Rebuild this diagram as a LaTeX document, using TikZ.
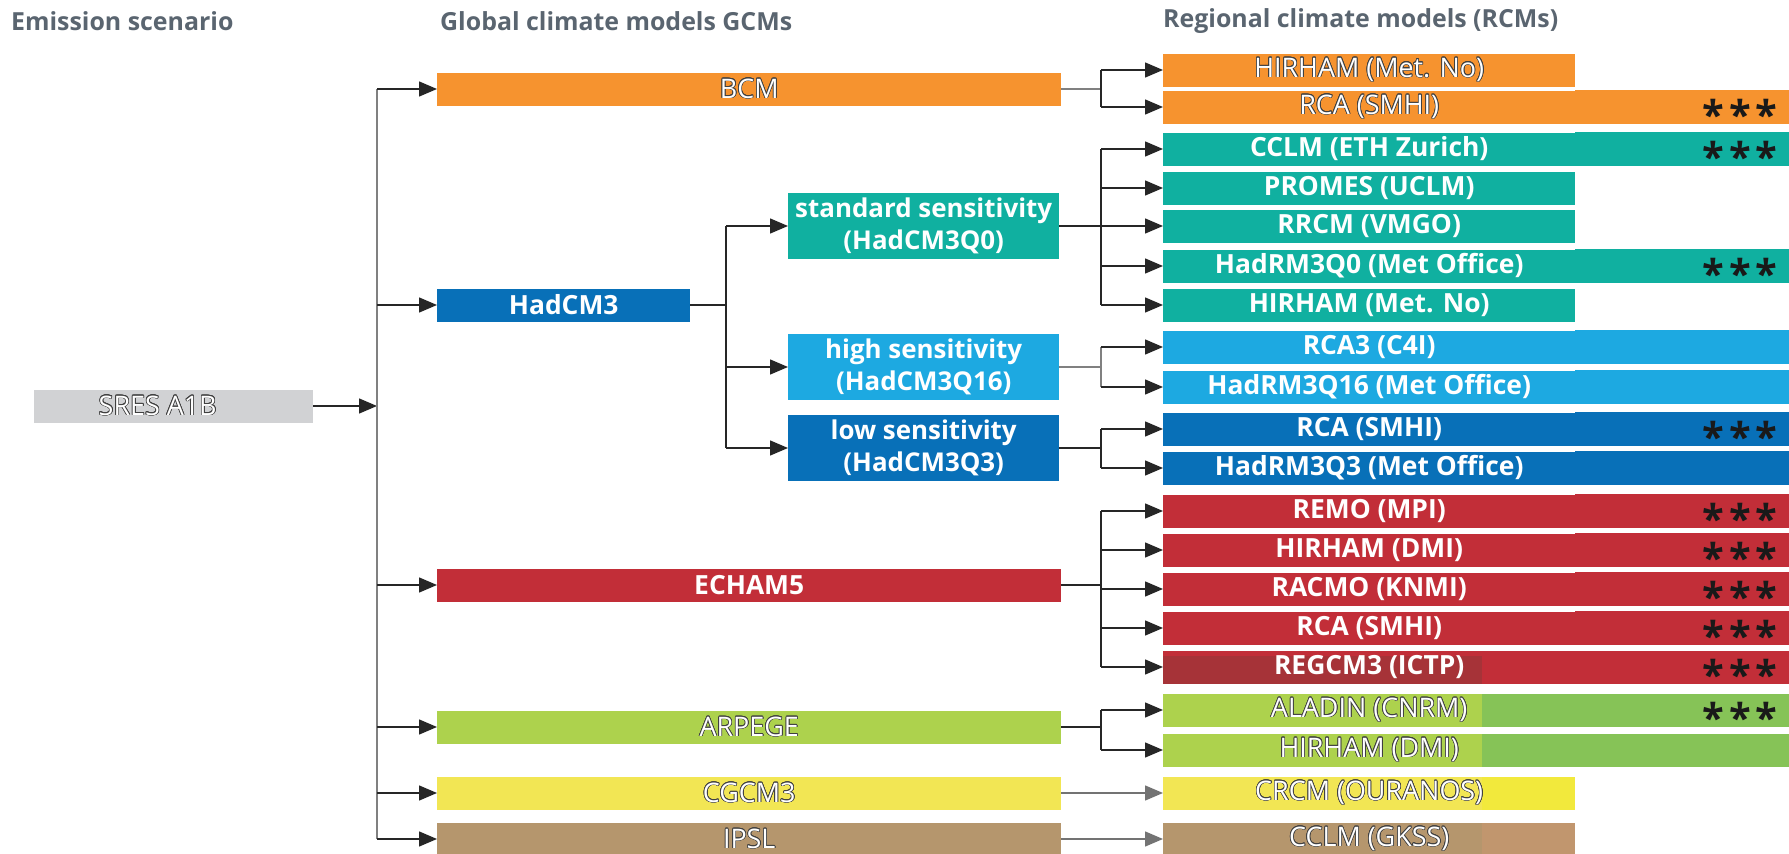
\documentclass[tikz,border=0pt]{standalone}
\usepackage{fontspec}
\setmainfont{Open Sans}
\usepackage{contour}
\contourlength{0.7pt}
\usetikzlibrary{arrows.meta}
\definecolor{corange}{HTML}{F6932F}
\definecolor{cteal}{HTML}{10B0A0}
\definecolor{clblue}{HTML}{1DA9E1}
\definecolor{cdblue}{HTML}{0870B8}
\definecolor{cred}{HTML}{C22E38}
\definecolor{cdred}{HTML}{A63338}
\definecolor{cgreen}{HTML}{ADD24D}
\definecolor{cdgreen}{HTML}{86C357}
\definecolor{cyellow}{HTML}{F2E654}
\definecolor{cyellow2}{HTML}{F2E93C}
\definecolor{cbrown}{HTML}{B5966D}
\definecolor{cbrown2}{HTML}{C1966E}
\definecolor{cgray}{HTML}{D1D2D4}
\definecolor{chead}{HTML}{5A6570}
\newcommand{\outl}[1]{{\color{white}\contour{black!75}{#1}}}
\tikzset{
  box/.style={rectangle, anchor=west, inner sep=0pt, minimum height=33bp, text=white,
    font=\fontsize{27}{28}\selectfont},
  bbox/.style={box, font=\bfseries\fontsize{26.5}{28}\selectfont},
  gcm/.style={minimum width=624bp},
  rcmw/.style={minimum width=412bp},
  sub/.style={rectangle, anchor=west, inner sep=0pt, minimum width=271bp, minimum height=66bp,
    text=white, align=center, font=\bfseries\fontsize{26}{32}\selectfont},
  head/.style={anchor=west, inner sep=0pt, text=chead, font=\bfseries\fontsize{25}{28}\selectfont},
  stars/.style={inner sep=0pt, font=\bfseries\fontsize{40}{40}\selectfont, text=black!90},
  arr/.style={-{Triangle[length=18bp,width=15bp]}, line width=1.4bp, draw=black!85},
  ln/.style={line width=1.4bp, draw=black!85},
  gln/.style={line width=1.4bp, draw=black!50},
  garr/.style={arr, draw=black!55},
}
\newcommand{\ext}[2]{\fill[#2] (#1.north east) rectangle (1789,0 |- #1.south);}
\newcommand{\str}[1]{\node[stars, anchor=base] at (1740,0 |- #1) [yshift=-22bp] {*\hspace{5bp}*\hspace{5bp}*};}
\begin{document}
\begin{tikzpicture}[x=1bp,y=-1bp]
\useasboundingbox (0,0) rectangle (1789,854);
% headers
\node[head] (h1) at (11,21) {Emission scenario};
\node[head] (h2) at (440,21) {Global climate models GCMs};
\node[head] (h3) at (1163,21) {Regional climate models (RCMs)};
% emission
\node[box, fill=cgray, minimum width=279bp] (sres) at (34,406) {\hspace{-32bp}\outl{SRES A1B}};
\coordinate (trunk) at (377,406);
% GCMs
\node[box, gcm, fill=corange] (bcm) at (437,89) {\outl{BCM}};
\node[bbox, fill=cdblue, minimum width=253bp] (had) at (437,305) {HadCM3};
\node[bbox, gcm, fill=cred] (ech) at (437,585) {ECHAM5};
\node[box, gcm, fill=cgreen] (arp) at (437,727) {\outl{ARPEGE}};
\node[box, gcm, fill=cyellow] (cgc) at (437,793) {\outl{CGCM3}};
\node[box, gcm, fill=cbrown] (ips) at (437,839) {\outl{IPSL}};
% HadCM3 variants
\node[sub, fill=cteal] (std) at (788,226) {standard sensitivity\\(HadCM3Q0)};
\node[sub, fill=clblue] (hig) at (788,367) {high sensitivity\\(HadCM3Q16)};
\node[sub, fill=cdblue] (low) at (788,448) {low sensitivity\\(HadCM3Q3)};
% RCMs
\node[box, rcmw, fill=corange] (r1) at (1163,70) {\outl{HIRHAM (Met. No)}};
\node[box, rcmw, fill=corange] (r2) at (1163,107) {\outl{RCA (SMHI)}}; \ext{r2}{corange}
\node[bbox, rcmw, fill=cteal] (r3) at (1163,149) {CCLM (ETH Zurich)}; \ext{r3}{cteal}
\node[bbox, rcmw, fill=cteal] (r4) at (1163,188) {PROMES (UCLM)};
\node[bbox, rcmw, fill=cteal] (r5) at (1163,226) {RRCM (VMGO)};
\node[bbox, rcmw, fill=cteal] (r6) at (1163,266) {HadRM3Q0 (Met Office)}; \ext{r6}{cteal}
\node[bbox, rcmw, fill=cteal] (r7) at (1163,305) {HIRHAM (Met. No)};
\node[bbox, rcmw, fill=clblue] (r8) at (1163,347) {RCA3 (C4I)}; \ext{r8}{clblue}
\node[bbox, rcmw, fill=clblue] (r9) at (1163,387) {HadRM3Q16 (Met Office)}; \ext{r9}{clblue}
\node[bbox, rcmw, fill=cdblue] (r10) at (1163,429) {RCA (SMHI)}; \ext{r10}{cdblue}
\node[bbox, rcmw, fill=cdblue] (r11) at (1163,468) {HadRM3Q3 (Met Office)}; \ext{r11}{cdblue}
\node[bbox, rcmw, fill=cred] (r12) at (1163,511) {REMO (MPI)}; \ext{r12}{cred}
\node[bbox, rcmw, fill=cred] (r13) at (1163,550) {HIRHAM (DMI)}; \ext{r13}{cred}
\node[bbox, rcmw, fill=cred] (r14) at (1163,589) {RACMO (KNMI)}; \ext{r14}{cred}
\node[bbox, rcmw, fill=cred] (r15) at (1163,628) {RCA (SMHI)}; \ext{r15}{cred}
\fill[cred] (1163,650.5) rectangle (1789,683.5);
\fill[cdred] (1163,656) rectangle (1482,683.5);
\node[bbox, rcmw] (r16) at (1163,667) {REGCM3 (ICTP)};
\fill[cdgreen] (1163,693.5) rectangle (1789,726.5);
\fill[cgreen] (1163,693.5) rectangle (1482,726.5);
\node[box, rcmw] (r17) at (1163,710) {\outl{ALADIN (CNRM)}};
\fill[cdgreen] (1163,733.5) rectangle (1789,766.5);
\fill[cgreen] (1163,733.5) rectangle (1482,766.5);
\node[box, rcmw] (r18) at (1163,750) {\outl{HIRHAM (DMI)}};
\fill[cyellow2] (1163,776.5) rectangle (1575,809.5);
\fill[cyellow] (1163,776.5) rectangle (1482,809.5);
\node[box, rcmw] (r19) at (1163,793) {\outl{CRCM (OURANOS)}};
\fill[cbrown2] (1163,822.5) rectangle (1575,855.5);
\fill[cbrown] (1163,822.5) rectangle (1482,855.5);
\node[box, rcmw] (r20) at (1163,839) {\outl{CCLM (GKSS)}};
% stars
\str{r2}\str{r3}\str{r6}\str{r10}\str{r12}\str{r13}\str{r14}\str{r15}\str{r16}\str{r17}
% connectors: emission -> GCMs
\draw[arr] (sres.east) -- (trunk);
\draw[gln] (trunk |- bcm) -- (trunk |- ips);
\foreach \g in {bcm,had,ech,arp,cgc,ips} \draw[arr] (trunk |- \g) -- (\g.west);
% HadCM3 -> variants
\coordinate (hb) at (726,305);
\draw[ln] (had.east) -- (hb);
\draw[ln] (hb |- std) -- (hb |- low);
\foreach \s in {std,hig,low} \draw[arr] (hb |- \s) -- (\s.west);
% GCM -> RCM branches
\coordinate (rb) at (1101,0);
\draw[gln] (bcm.east) -- (rb |- bcm);
\draw[ln] (rb |- r1) -- (rb |- r2);
\foreach \r in {r1,r2} \draw[arr] (rb |- \r) -- (\r.west);
\draw[ln] (std.east) -- (rb |- std);
\draw[ln] (rb |- r3) -- (rb |- r7);
\foreach \r in {r3,r4,r5,r6,r7} \draw[arr] (rb |- \r) -- (\r.west);
\draw[gln] (hig.east) -- (rb |- hig);
\draw[gln] (rb |- r8) -- (rb |- r9);
\foreach \r in {r8,r9} \draw[arr] (rb |- \r) -- (\r.west);
\draw[ln] (low.east) -- (rb |- low);
\draw[ln] (rb |- r10) -- (rb |- r11);
\foreach \r in {r10,r11} \draw[arr] (rb |- \r) -- (\r.west);
\draw[ln] (ech.east) -- (rb |- ech);
\draw[ln] (rb |- r12) -- (rb |- r16);
\foreach \r in {r12,r13,r14,r15,r16} \draw[arr] (rb |- \r) -- (\r.west);
\draw[ln] (arp.east) -- (rb |- arp);
\draw[ln] (rb |- r17) -- (rb |- r18);
\foreach \r in {r17,r18} \draw[arr] (rb |- \r) -- (\r.west);
\draw[garr] (cgc.east) -- (r19.west);
\draw[garr] (ips.east) -- (r20.west);
\end{tikzpicture}
\end{document}
